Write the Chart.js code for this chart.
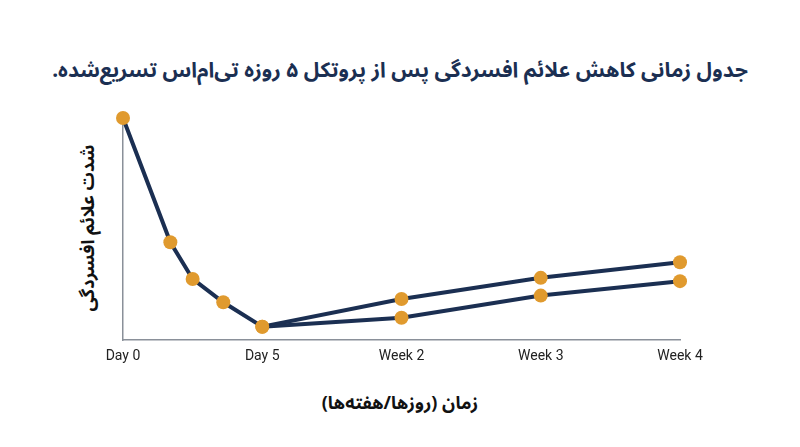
<!DOCTYPE html>
<html><head><meta charset="utf-8">
<script src="https://cdn.jsdelivr.net/npm/chart.js@4"></script>
<style>
body{margin:0;background:#fff;width:800px;height:447px;overflow:hidden;position:relative;font-family:"Noto Sans","Noto Sans Arabic","DejaVu Sans",sans-serif}
#t{position:absolute;top:48px;left:0;width:800px;text-align:center;font-weight:bold;font-size:21px;color:#1B2F52;direction:rtl}
#xt{position:absolute;top:384px;left:0;width:800px;text-align:center;font-weight:bold;font-size:18px;color:#111;direction:rtl}
#yt{position:absolute;left:88px;top:228px;transform:translate(-50%,-50%) rotate(-90deg);white-space:nowrap;font-weight:bold;font-size:18px;color:#111;direction:rtl}
canvas{position:absolute;left:0;top:0}
</style></head><body>
<div id="t">جدول زمانی کاهش علائم افسردگی پس از پروتکل ۵ روزه تی‌ام‌اس تسریع‌شده.</div>
<div id="yt">شدت علائم افسردگی</div>
<div id="xt">زمان (روزها/هفته‌ها)</div>
<canvas id="c" width="800" height="447"></canvas>
<script>
const tickValues=[0,5,10,15,20];
const tickLabels=["Day 0","Day 5","Week 2","Week 3","Week 4"];
const upperX=[0,1.7,2.5,3.6,5,10,15,20];
const upperY=[100,44,27.5,17,6,18.5,28,35];
const lowerX=[5,10,15,20];
const lowerY=[6,10,20,26.5];
const navy="#1B2F52",orange="#E09A2E";
const ds=(xs,ys)=>({data:xs.map((x,i)=>({x,y:ys[i]})),borderColor:navy,borderWidth:4,pointBackgroundColor:orange,pointBorderWidth:0,pointRadius:7,clip:false,tension:0});
new Chart(document.getElementById('c'),{type:'line',
data:{datasets:[ds(lowerX,lowerY),ds(upperX,upperY)]},
options:{responsive:false,animation:false,
layout:{padding:{top:118,left:123,right:120,bottom:77}},
plugins:{legend:{display:false},tooltip:{enabled:false}},
scales:{
x:{type:'linear',min:0,max:20,afterBuildTicks:a=>{a.ticks=tickValues.map(v=>({value:v}));},
 afterFit:a=>{a.height=30;},
 ticks:{callback:(v)=>tickLabels[tickValues.indexOf(v)],color:'#222',font:{size:14,family:'Roboto'},padding:8,maxRotation:0,autoSkip:false},
 grid:{display:false,drawTicks:false},border:{color:'#8a9099',width:1.5}},
y:{min:0,max:100,afterFit:a=>{a.width=0;},ticks:{display:false},grid:{display:false,drawTicks:false},border:{color:'#8a9099',width:1.5}}
}}});
</script></body></html>
